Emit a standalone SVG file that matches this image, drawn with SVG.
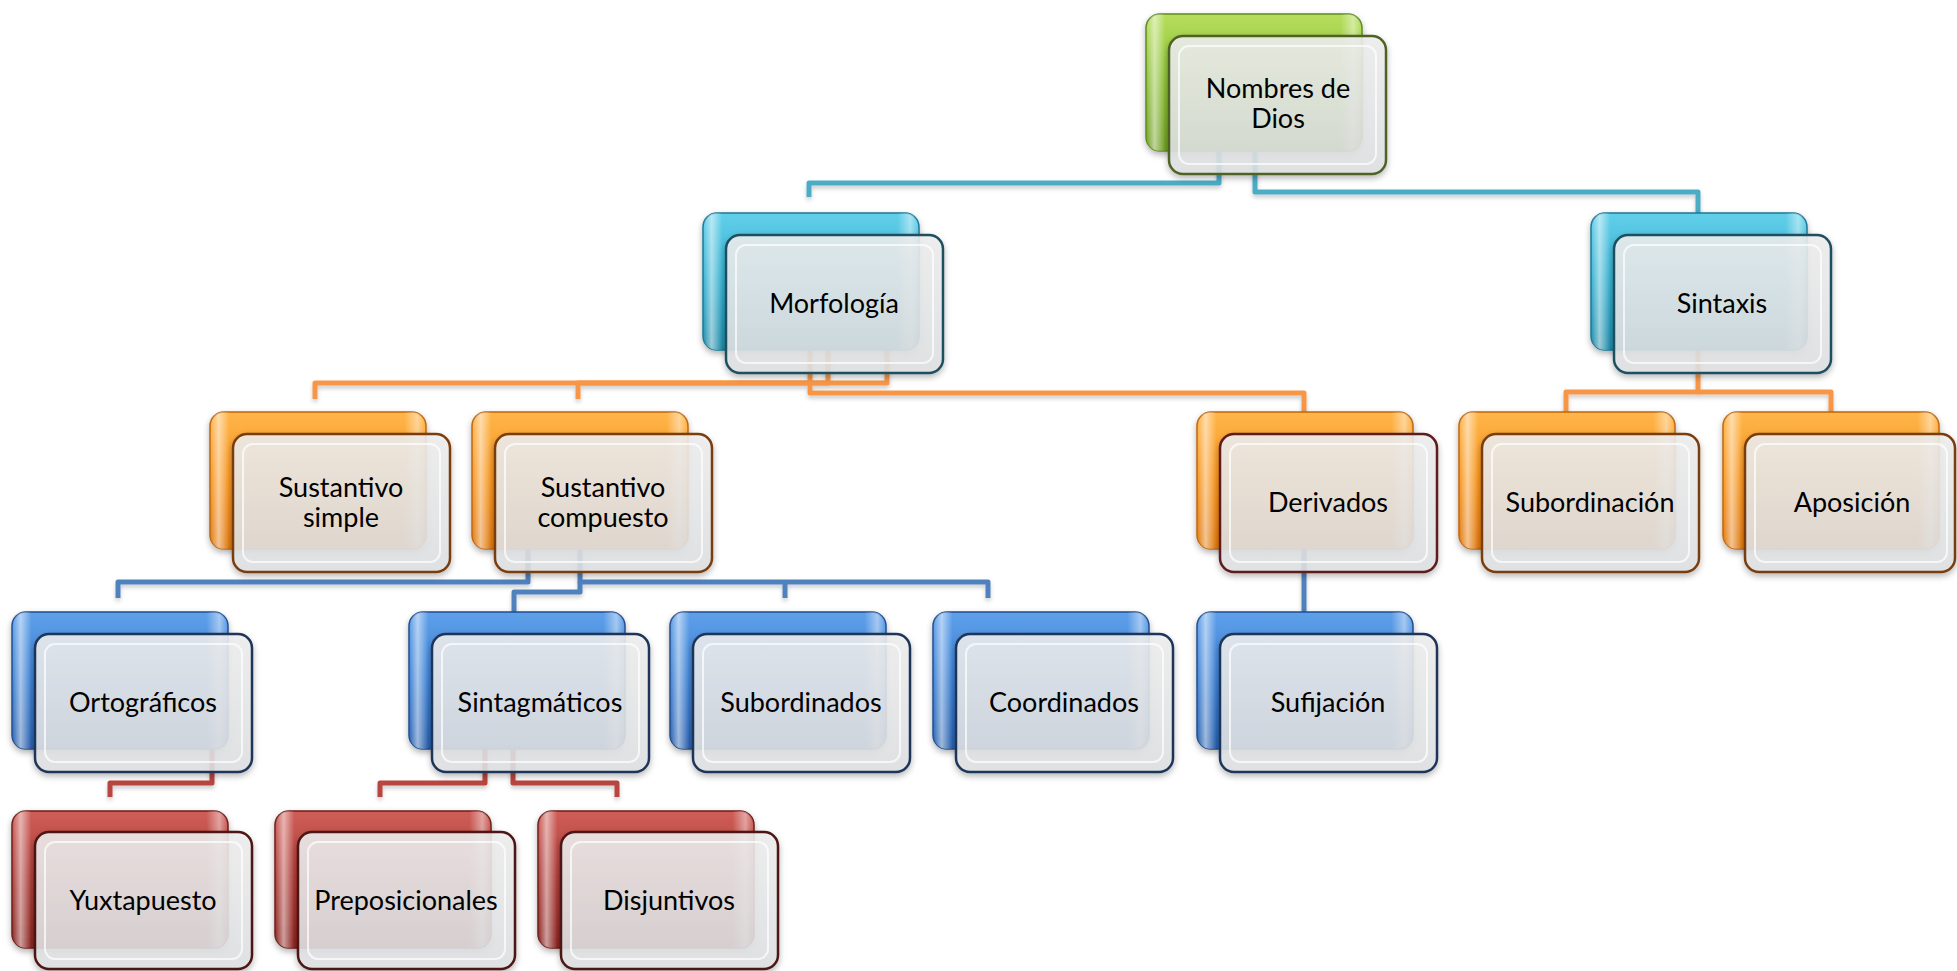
<svg xmlns="http://www.w3.org/2000/svg" width="1957" height="971" viewBox="0 0 1957 971">
<defs>
<linearGradient id="gGreen" x1="0" y1="0" x2="0" y2="1"><stop offset="0" stop-color="#B6DE5C"/><stop offset="0.5" stop-color="#8CBF35"/><stop offset="1" stop-color="#6E9E22"/></linearGradient>
<linearGradient id="gCyan" x1="0" y1="0" x2="0" y2="1"><stop offset="0" stop-color="#62CFEA"/><stop offset="0.5" stop-color="#35B0D0"/><stop offset="1" stop-color="#1E8AA8"/></linearGradient>
<linearGradient id="gOrange" x1="0" y1="0" x2="0" y2="1"><stop offset="0" stop-color="#FFB64A"/><stop offset="0.5" stop-color="#F7941D"/><stop offset="1" stop-color="#E0780E"/></linearGradient>
<linearGradient id="gBlue" x1="0" y1="0" x2="0" y2="1"><stop offset="0" stop-color="#5FA0EA"/><stop offset="0.5" stop-color="#3C80D3"/><stop offset="1" stop-color="#2860AE"/></linearGradient>
<linearGradient id="gRed" x1="0" y1="0" x2="0" y2="1"><stop offset="0" stop-color="#CF5E58"/><stop offset="0.5" stop-color="#AC3C37"/><stop offset="1" stop-color="#8A2521"/></linearGradient>
<linearGradient id="gHl" x1="0" y1="0" x2="1" y2="0"><stop offset="0" stop-color="#fff" stop-opacity="0"/><stop offset="0.04" stop-color="#fff" stop-opacity="0.55"/><stop offset="0.09" stop-color="#fff" stop-opacity="0"/><stop offset="0.9" stop-color="#fff" stop-opacity="0"/><stop offset="0.96" stop-color="#fff" stop-opacity="0.45"/><stop offset="1" stop-color="#fff" stop-opacity="0"/></linearGradient>
<linearGradient id="gFront" x1="0" y1="0" x2="0" y2="1"><stop offset="0" stop-color="#EFEFEF"/><stop offset="1" stop-color="#DFE1E3"/></linearGradient>
<filter id="sh" x="-10%" y="-10%" width="125%" height="130%"><feDropShadow dx="0" dy="3" stdDeviation="3" flood-color="#000" flood-opacity="0.3"/></filter>
<filter id="lsh" filterUnits="userSpaceOnUse" x="0" y="0" width="1957" height="971"><feDropShadow dx="0" dy="3" stdDeviation="2" flood-color="#000" flood-opacity="0.2"/></filter>
</defs>
<style>
.conn{fill:none;stroke-width:5;stroke-linejoin:round;stroke-linecap:butt}
.cCyan{stroke:#4BACC6}.cOrange{stroke:#F79646}.cBlue{stroke:#4F81BD}.cRed{stroke:#B8453F}
.back{stroke-width:1.5;filter:url(#sh)}
.hl{fill:url(#gHl);stroke:none}
.front{fill:url(#gFront);fill-opacity:0.88;stroke-width:2.5;filter:url(#sh)}
.inner{fill:none;stroke:#FFFFFF;stroke-opacity:0.7;stroke-width:2}
.green .back{fill:url(#gGreen);stroke:#5E8A1C}.green .front{stroke:#4F6228}
.cyan .back{fill:url(#gCyan);stroke:#1A7894}.cyan .front{stroke:#1F4F5E}
.orange .back{fill:url(#gOrange);stroke:#C0650A}.orange .front{stroke:#7A3E10}
.blue .back{fill:url(#gBlue);stroke:#1F4E90}.blue .front{stroke:#1F3658}
.red .back{fill:url(#gRed);stroke:#6E1C19}.red .front{stroke:#4E1614}
text{font-family:Lato,"Liberation Sans",sans-serif;font-size:27px;fill:#000;text-anchor:middle}
</style>
<rect width="1957" height="971" fill="#FFFFFF"/>
<g id="connectors" filter="url(#lsh)">
<path class="conn cCyan" d="M1219 150 V183 H809 V197"/>
<path class="conn cCyan" d="M1255 150 V192 H1698 V213"/>
<path class="conn cOrange" d="M828 350 V383 H315 V399"/>
<path class="conn cOrange" d="M887 350 V383 H578 V399"/>
<path class="conn cOrange" d="M810 350 V393 H1304 V412"/>
<path class="conn cOrange" d="M1698 349 V392 H1566 V412"/>
<path class="conn cOrange" d="M1698 392 H1831 V412"/>
<path class="conn cBlue" d="M528 549 V582 H118 V598"/>
<path class="conn cBlue" d="M580 549 V582 H988 V598"/>
<path class="conn cBlue" d="M785 582 V598"/>
<path class="conn cBlue" d="M580 582 V592 H514 V612"/>
<path class="conn cBlue" d="M1304 549 V612"/>
<path class="conn cRed" d="M212 747 V783 H110 V797"/>
<path class="conn cRed" d="M485 747 V783 H380 V797"/>
<path class="conn cRed" d="M513 747 V783 H617 V797"/>
</g>
<g id="n-root" class="green">
<rect class="back" x="1146" y="14" width="216" height="137" rx="14"/><rect class="hl" x="1146" y="14" width="216" height="137" rx="14"/>
<rect class="front" x="1169" y="36" width="217" height="138" rx="14"/><rect class="inner" x="1179" y="46" width="197" height="118" rx="10"/>
<text x="1278" y="98">Nombres de</text><text x="1278" y="128">Dios</text>
</g>
<g id="n-morfologia" class="cyan">
<rect class="back" x="703" y="213" width="216" height="137" rx="14"/><rect class="hl" x="703" y="213" width="216" height="137" rx="14"/>
<rect class="front" x="726" y="235" width="217" height="138" rx="14"/><rect class="inner" x="736" y="245" width="197" height="118" rx="10"/>
<text x="834" y="313">Morfología</text>
</g>
<g id="n-sintaxis" class="cyan">
<rect class="back" x="1591" y="213" width="216" height="137" rx="14"/><rect class="hl" x="1591" y="213" width="216" height="137" rx="14"/>
<rect class="front" x="1614" y="235" width="217" height="138" rx="14"/><rect class="inner" x="1624" y="245" width="197" height="118" rx="10"/>
<text x="1722" y="313">Sintaxis</text>
</g>
<g id="n-sust-simple" class="orange">
<rect class="back" x="210" y="412" width="216" height="137" rx="14"/><rect class="hl" x="210" y="412" width="216" height="137" rx="14"/>
<rect class="front" x="233" y="434" width="217" height="138" rx="14"/><rect class="inner" x="243" y="444" width="197" height="118" rx="10"/>
<text x="341" y="497">Sustantivo</text><text x="341" y="527">simple</text>
</g>
<g id="n-sust-compuesto" class="orange">
<rect class="back" x="472" y="412" width="216" height="137" rx="14"/><rect class="hl" x="472" y="412" width="216" height="137" rx="14"/>
<rect class="front" x="495" y="434" width="217" height="138" rx="14"/><rect class="inner" x="505" y="444" width="197" height="118" rx="10"/>
<text x="603" y="497">Sustantivo</text><text x="603" y="527">compuesto</text>
</g>
<g id="n-derivados" class="orange">
<rect class="back" x="1197" y="412" width="216" height="137" rx="14"/><rect class="hl" x="1197" y="412" width="216" height="137" rx="14"/>
<rect class="front" x="1220" y="434" width="217" height="138" rx="14" style="stroke:#5E1A1A"/><rect class="inner" x="1230" y="444" width="197" height="118" rx="10"/>
<text x="1328" y="512">Derivados</text>
</g>
<g id="n-subordinacion" class="orange">
<rect class="back" x="1459" y="412" width="216" height="137" rx="14"/><rect class="hl" x="1459" y="412" width="216" height="137" rx="14"/>
<rect class="front" x="1482" y="434" width="217" height="138" rx="14"/><rect class="inner" x="1492" y="444" width="197" height="118" rx="10"/>
<text x="1590" y="512">Subordinación</text>
</g>
<g id="n-aposicion" class="orange">
<rect class="back" x="1723" y="412" width="216" height="137" rx="14"/><rect class="hl" x="1723" y="412" width="216" height="137" rx="14"/>
<rect class="front" x="1745" y="434" width="210" height="138" rx="14"/><rect class="inner" x="1755" y="444" width="192" height="118" rx="10"/>
<text x="1852" y="512">Aposición</text>
</g>
<g id="n-ortograficos" class="blue">
<rect class="back" x="12" y="612" width="216" height="137" rx="14"/><rect class="hl" x="12" y="612" width="216" height="137" rx="14"/>
<rect class="front" x="35" y="634" width="217" height="138" rx="14"/><rect class="inner" x="45" y="644" width="197" height="118" rx="10"/>
<text x="143" y="712">Ortográficos</text>
</g>
<g id="n-sintagmaticos" class="blue">
<rect class="back" x="409" y="612" width="216" height="137" rx="14"/><rect class="hl" x="409" y="612" width="216" height="137" rx="14"/>
<rect class="front" x="432" y="634" width="217" height="138" rx="14"/><rect class="inner" x="442" y="644" width="197" height="118" rx="10"/>
<text x="540" y="712">Sintagmáticos</text>
</g>
<g id="n-subordinados" class="blue">
<rect class="back" x="670" y="612" width="216" height="137" rx="14"/><rect class="hl" x="670" y="612" width="216" height="137" rx="14"/>
<rect class="front" x="693" y="634" width="217" height="138" rx="14"/><rect class="inner" x="703" y="644" width="197" height="118" rx="10"/>
<text x="801" y="712">Subordinados</text>
</g>
<g id="n-coordinados" class="blue">
<rect class="back" x="933" y="612" width="216" height="137" rx="14"/><rect class="hl" x="933" y="612" width="216" height="137" rx="14"/>
<rect class="front" x="956" y="634" width="217" height="138" rx="14"/><rect class="inner" x="966" y="644" width="197" height="118" rx="10"/>
<text x="1064" y="712">Coordinados</text>
</g>
<g id="n-sufijacion" class="blue">
<rect class="back" x="1197" y="612" width="216" height="137" rx="14"/><rect class="hl" x="1197" y="612" width="216" height="137" rx="14"/>
<rect class="front" x="1220" y="634" width="217" height="138" rx="14"/><rect class="inner" x="1230" y="644" width="197" height="118" rx="10"/>
<text x="1328" y="712">Sufijación</text>
</g>
<g id="n-yuxtapuesto" class="red">
<rect class="back" x="12" y="811" width="216" height="137" rx="14"/><rect class="hl" x="12" y="811" width="216" height="137" rx="14"/>
<rect class="front" x="35" y="832" width="217" height="137" rx="14"/><rect class="inner" x="45" y="842" width="197" height="117" rx="10"/>
<text x="143" y="910">Yuxtapuesto</text>
</g>
<g id="n-preposicionales" class="red">
<rect class="back" x="275" y="811" width="216" height="137" rx="14"/><rect class="hl" x="275" y="811" width="216" height="137" rx="14"/>
<rect class="front" x="298" y="832" width="217" height="137" rx="14"/><rect class="inner" x="308" y="842" width="197" height="117" rx="10"/>
<text x="406" y="910">Preposicionales</text>
</g>
<g id="n-disjuntivos" class="red">
<rect class="back" x="538" y="811" width="216" height="137" rx="14"/><rect class="hl" x="538" y="811" width="216" height="137" rx="14"/>
<rect class="front" x="561" y="832" width="217" height="137" rx="14"/><rect class="inner" x="571" y="842" width="197" height="117" rx="10"/>
<text x="669" y="910">Disjuntivos</text>
</g>
</svg>
